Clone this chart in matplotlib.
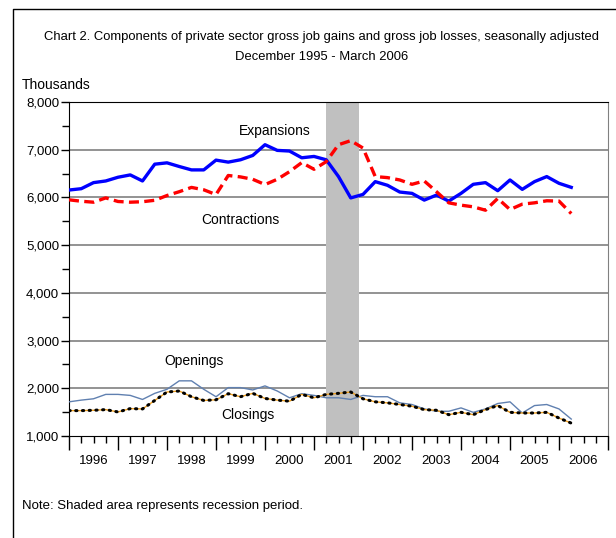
import numpy as np
import matplotlib
matplotlib.use("Agg")
import matplotlib.pyplot as plt
from matplotlib.lines import Line2D
from matplotlib.ticker import FuncFormatter

plt.rcParams['font.family'] = ['Liberation Sans', 'DejaVu Sans']

# quarter-end positions, Dec 1995 .. Mar 2006
quarters = np.arange(42) * 0.25 + 1996.0

expansions = [6155, 6183, 6310, 6345, 6423, 6472, 6345, 6697, 6725, 6648,
              6577, 6577, 6782, 6740, 6789, 6880, 7105, 6986, 6972, 6831,
              6859, 6789, 6437, 5990, 6063, 6331, 6254, 6113, 6085, 5944,
              6049, 5923, 6085, 6275, 6310, 6141, 6366, 6169, 6331, 6437,
              6296, 6211]
contractions = [5950, 5920, 5900, 5990, 5915, 5900, 5910, 5940, 6040, 6120,
                6210, 6160, 6060, 6460, 6430, 6380, 6270, 6380, 6540, 6730,
                6590, 6750, 7105, 7190, 7035, 6437, 6415, 6366, 6275, 6345,
                6120, 5887, 5838, 5803, 5732, 5979, 5746, 5859, 5887, 5930,
                5923, 5662]
openings = [1716, 1752, 1780, 1872, 1872, 1851, 1766, 1894, 1979, 2156,
            2156, 1979, 1823, 2014, 2014, 1965, 2050, 1943, 1801, 1887,
            1851, 1801, 1801, 1766, 1851, 1823, 1823, 1695, 1660, 1567,
            1518, 1518, 1589, 1496, 1567, 1681, 1716, 1482, 1638, 1660,
            1567, 1355]
closings = [1532, 1532, 1539, 1553, 1504, 1574, 1567, 1745, 1922, 1943,
            1823, 1745, 1759, 1887, 1823, 1894, 1787, 1752, 1730, 1872,
            1801, 1872, 1894, 1922, 1780, 1716, 1695, 1660, 1624, 1553,
            1539, 1447, 1496, 1447, 1553, 1638, 1496, 1482, 1482, 1496,
            1376, 1270]

recession = (2001.25, 2001.917)
year_labels = [str(y) for y in range(1996, 2007)]

fig = plt.figure(figsize=(6.16, 5.38), dpi=100)
ax = fig.add_axes([69 / 616, 102 / 538, 539 / 616, 334 / 538])

ax.axvspan(*recession, color='#c0c0c0', lw=0, zorder=1)

for v in range(2000, 8000, 1000):
    ax.axhline(v, color='#808080', lw=1.2, zorder=0)

ax.plot(quarters, expansions, color='#0000ff', lw=2.4, zorder=3)
ax.plot(quarters, contractions, color='#ff0000', lw=2.4,
        linestyle=(0, (3, 1.6)), zorder=3)
ax.plot(quarters, openings, color='#6080b0', lw=1.0, zorder=3)
ax.plot(quarters, closings, color='#f0a020', lw=1.0, zorder=3)
ax.plot(quarters, closings, color='black', lw=2.2,
        linestyle=(0, (0.4, 1.8)), dash_capstyle='round', zorder=4)

ax.set_xlim(1996, 2007)
ax.set_ylim(1000, 8000)

ax.set_yticks(range(1000, 8001, 1000))
ax.set_yticks(range(1500, 8000, 1000), minor=True)
ax.yaxis.set_major_formatter(FuncFormatter(lambda v, p: f'{int(v):,}'))
ax.tick_params(axis='y', which='major', length=6, width=1, labelsize=9.5, pad=1)
ax.tick_params(axis='y', which='minor', length=5, width=1)

ax.set_xticks(range(1996, 2008))
ax.set_xticks(np.arange(1996, 2007, 0.25), minor=True)
ax.set_xticklabels([])
ax.tick_params(axis='x', which='major', length=10, width=1)
ax.tick_params(axis='x', which='minor', length=5, width=1)

sec = ax.secondary_xaxis('bottom')
sec.set_xticks(np.arange(1996, 2007) + 0.5, year_labels)
sec.tick_params(length=0, labelsize=9.5, pad=14)
sec.spines['bottom'].set_visible(False)

for s in ['left', 'bottom', 'top']:
    ax.spines[s].set_color('black')
ax.spines['right'].set_color('#808080')

ax.text(2000.2, 7400, 'Expansions', fontsize=10, ha='center', va='center')
ax.text(1999.5, 5530, 'Contractions', fontsize=10, ha='center', va='center')
ax.text(1998.55, 2570, 'Openings', fontsize=10, ha='center', va='center')
ax.text(1999.65, 1440, 'Closings', fontsize=10, ha='center', va='center')

fig.text(322 / 616, 1 - 37 / 538,
         'Chart 2. Components of private sector gross job gains and gross job losses, seasonally adjusted',
         ha='center', va='center', fontsize=9.4)
fig.text(322 / 616, 1 - 57 / 538, 'December 1995 - March 2006',
         ha='center', va='center', fontsize=9.4)
fig.text(22 / 616, 1 - 85 / 538, 'Thousands', ha='left', va='center', fontsize=10)
fig.text(22 / 616, 1 - 506 / 538, 'Note: Shaded area represents recession period.',
         ha='left', va='center', fontsize=9.5)

fx = 12.5 / 616
fy = 1 - 8.5 / 538
fig.add_artist(Line2D([fx, fx, 1], [0, fy, fy], color='black', lw=1,
                      transform=fig.transFigure))

fig.savefig('out.png', dpi=100)
